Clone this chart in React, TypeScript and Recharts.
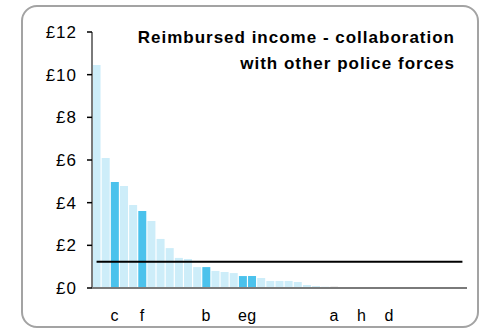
import { BarChart, Bar, XAxis, YAxis, ReferenceLine, Cell } from 'recharts';

// one entry per force, sorted by reimbursed income per head
const FORCE_LABELS = [
  '', '', 'c', '', '', 'f', '', '', '', '', '', '', 'b', '', '', '', 'e', 'g', '', '', '',
  '', '', '', '', '', 'a', '', '', 'h', '', '', 'd', '', '', '', '', '', '', '', '',
];
const INCOME = [
  10.45, 6.09, 4.97, 4.78, 3.89, 3.61, 3.14, 2.3, 1.87, 1.41, 1.36, 0.98, 0.98, 0.8, 0.75,
  0.7, 0.56, 0.56, 0.47, 0.33, 0.33, 0.33, 0.28, 0.14, 0.09, 0.06, 0.05, 0.04, 0, 0, 0, 0,
  0, 0, 0, 0, 0, 0, 0, 0, 0,
];
const HIGHLIGHTED = ['c', 'f', 'b', 'e', 'g', 'h', 'd'];
const SELECTED = 'a';
const Y_TICKS = [0, 2, 4, 6, 8, 10, 12];
const AVERAGE = 1.23;

const LIGHT = '#cdedf9';
const DARK = '#4bc2ec';
const FONT = 'Arial, "Liberation Sans", sans-serif';

const data = INCOME.map((value, i) => ({ id: i, label: FORCE_LABELS[i], value }));

function barColor(label: string) {
  if (label === SELECTED) return '#000000';
  if (HIGHLIGHTED.includes(label)) return DARK;
  return LIGHT;
}

export default function App() {
  return (
    <div style={{ position: 'absolute', left: 0, top: 0, width: 488, height: 333, fontFamily: FONT }}>
      <div
        style={{
          position: 'absolute',
          left: 21,
          top: 5,
          width: 458,
          height: 323,
          boxSizing: 'border-box',
          border: '2px solid #a3a3a3',
          borderRadius: 16,
        }}
      />
      <BarChart
        width={488}
        height={333}
        data={data}
        margin={{ top: 32, right: 21, left: 32, bottom: 10 }}
        barCategoryGap="6%"
      >
        <XAxis
          dataKey="id"
          interval={0}
          tickFormatter={(id) => FORCE_LABELS[id]}
          tickLine={false}
          tickMargin={16}
          height={35}
          axisLine={{ stroke: '#7a7a7a', strokeWidth: 2 }}
          tick={{ fill: '#000', fontSize: 16, letterSpacing: 0.8 }}
        />
        <YAxis
          domain={[0, 12]}
          ticks={Y_TICKS}
          width={60}
          tickSize={5}
          tickMargin={10}
          tickFormatter={(v) => `£${v}`}
          axisLine={{ stroke: '#7a7a7a', strokeWidth: 2 }}
          tickLine={{ stroke: '#000', strokeWidth: 1.5 }}
          tick={{ fill: '#000', fontSize: 17, letterSpacing: 1 }}
        />
        <Bar dataKey="value" isAnimationActive={false}>
          {data.map((d) => (
            <Cell key={d.id} fill={barColor(d.label)} />
          ))}
        </Bar>
        <ReferenceLine
          segment={[
            { x: 0, y: AVERAGE },
            { x: INCOME.length - 1, y: AVERAGE },
          ]}
          stroke="#000"
          strokeWidth={2}
        />
      </BarChart>
      <div
        style={{
          position: 'absolute',
          right: 33,
          top: 25,
          textAlign: 'right',
          fontWeight: 'bold',
          fontSize: 17,
          lineHeight: '26px',
          letterSpacing: 1,
          whiteSpace: 'nowrap',
        }}
      >
        Reimbursed income - collaboration
        <br />
        with other police forces
      </div>
    </div>
  );
}
